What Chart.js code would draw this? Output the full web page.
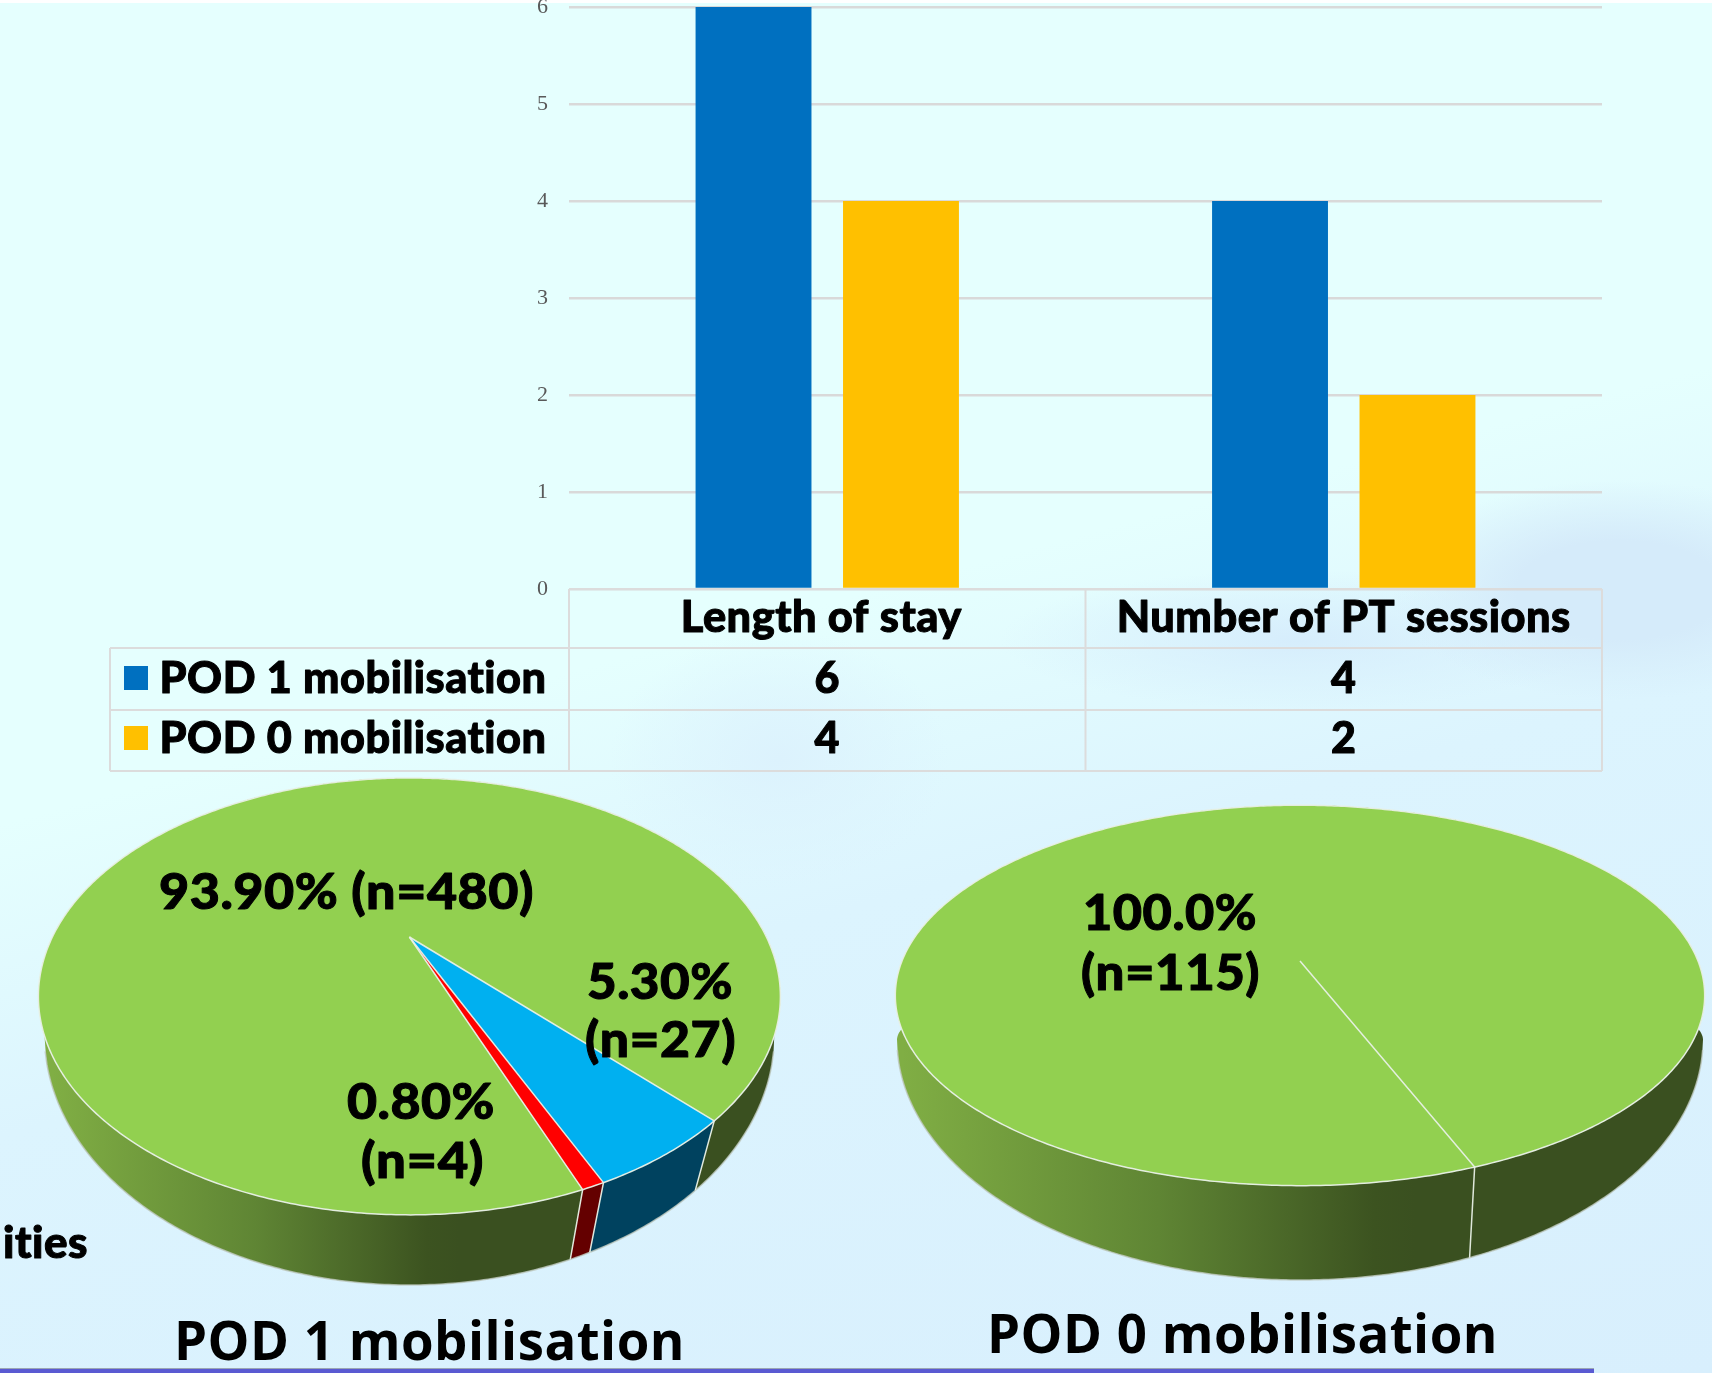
<!DOCTYPE html>
<html>
<head>
<meta charset="utf-8">
<title>POD 0 vs POD 1 mobilisation</title>
<script src="https://cdn.jsdelivr.net/npm/chart.js@4"></script>
<style>
  html, body { margin: 0; padding: 0; }
  body {
    width: 1712px; height: 1373px; position: relative; overflow: hidden;
    background:
      radial-gradient(ellipse 230px 110px at 1620px 590px, #d5ebfa 0%, #d5ebfa 45%, rgba(213,235,250,0) 100%),
      radial-gradient(ellipse 300px 70px at 1300px 640px, #d6edfc 0%, rgba(214,237,252,0) 100%),
      radial-gradient(ellipse 170px 130px at 780px 760px, #dcf2fd 0%, rgba(220,242,253,0) 100%),
      linear-gradient(165deg, #e5fffe 0%, #e5fffe 45%, #dcf4fe 62%, #d8effd 100%);
  }
  canvas { position: absolute; left: 0; top: 0; }
  #topline { position: absolute; left: 0; top: 0; width: 1712px; height: 3px; background: #fff; }
  #bottomline {
    position: absolute; left: 0; top: 1368px; width: 1594px; height: 5px;
    background: #5a5ad2; border-top: 1px solid #9aa6b4; box-sizing: border-box;
  }
</style>
</head>
<body>
<div id="topline"></div>
<div id="bottomline"></div>
<canvas id="chart-barras" width="1712" height="1373"></canvas>
<canvas id="chart-pod1" width="1712" height="1373"></canvas>
<canvas id="chart-pod0" width="1712" height="1373"></canvas>
<script>
// datos
const categorias = ['Length of stay', 'Number of PT sessions'];
const serieNombres = ['POD 1 mobilisation', 'POD 0 mobilisation'];
const pod1Valores = [6, 4];
const pod0Valores = [4, 2];
const pod1Porcentaje = [5.3, 0.8, 93.9];
const pod1Casos = [27, 4, 480];
const pod0Porcentaje = [100];
const pod0Casos = [115];

const AZUL = '#0070c0', AMARILLO = '#ffc000', LINEA = '#dcdcdc';
const FUENTE = 'Lato, sans-serif';

function texto(ctx, str, x, y, font, opt = {}) {
    ctx.save();
    ctx.font = font;
    ctx.letterSpacing = '0.5px'; // evita la ligadura "ti" de Lato
    ctx.fillStyle = opt.color || '#000';
    ctx.strokeStyle = opt.color || '#000';
    ctx.lineWidth = 1;
    ctx.lineJoin = 'round';
    ctx.textBaseline = 'alphabetic';
    ctx.textAlign = 'left';
    const w = ctx.measureText(str).width;
    const sx = opt.width ? opt.width / w : (opt.sx || 1);
    ctx.translate(opt.center ? x - w * sx / 2 : x, y);
    ctx.scale(sx, 1);
    ctx.fillText(str, 0, 0);
    if (!opt.fino) ctx.strokeText(str, 0, 0);
    ctx.restore();
}

// tabla de datos bajo el gráfico de barras
const tablaPlugin = {
    id: 'tabla',
    afterDraw(chart) {
        const { ctx, chartArea: a, scales: { x } } = chart;
        const filas = [a.bottom, 648, 710, 771];
        const izq = 110, fuente = `900 43px ${FUENTE}`;
        const sep = x.getPixelForValue(0) + (x.getPixelForValue(1) - x.getPixelForValue(0)) / 2;
        ctx.save();
        ctx.strokeStyle = LINEA;
        ctx.lineWidth = 2;
        ctx.beginPath();
        ctx.moveTo(a.left, filas[0]); ctx.lineTo(a.right, filas[0]);
        for (let i = 1; i < 4; i++) { ctx.moveTo(izq, filas[i]); ctx.lineTo(a.right, filas[i]); }
        ctx.moveTo(izq, filas[1]); ctx.lineTo(izq, filas[3]);
        [a.left, sep, a.right].forEach(px => { ctx.moveTo(px, filas[0]); ctx.lineTo(px, filas[3]); });
        ctx.stroke();
        ctx.restore();

        const anchos = [281, 454], ajuste = [-6, 0];
        categorias.forEach((c, i) => texto(ctx, c, x.getPixelForValue(i) + ajuste[i], 632, fuente, { width: anchos[i], center: true }));
        const bases = [693, 753];
        [pod1Valores, pod0Valores].forEach((vals, f) => {
            ctx.fillStyle = chart.data.datasets[f].backgroundColor;
            ctx.fillRect(124, bases[f] - 27, 24, 24);
            texto(ctx, serieNombres[f], 159.5, bases[f], fuente, { width: 387 });
            vals.forEach((v, i) => texto(ctx, String(v), x.getPixelForValue(i), bases[f], fuente, { center: true }));
        });
    }
};

new Chart(document.getElementById('chart-barras'), {
    type: 'bar',
    data: {
        labels: categorias,
        datasets: [
            { label: serieNombres[0], data: pod1Valores, backgroundColor: AZUL, categoryPercentage: 0.571, barPercentage: 0.786 },
            { label: serieNombres[1], data: pod0Valores, backgroundColor: AMARILLO, categoryPercentage: 0.571, barPercentage: 0.786 }
        ]
    },
    options: {
        responsive: false,
        animation: false,
        layout: { padding: { left: 519, right: 110, top: 7, bottom: 0 } },
        plugins: { legend: { display: false }, tooltip: { enabled: false } },
        scales: {
            x: {
                grid: { display: false },
                border: { display: false },
                ticks: { display: false },
                afterFit: s => { s.height = 784; }
            },
            y: {
                min: 0, max: 6,
                afterFit: s => { s.width = 50; s.paddingTop = 0; s.paddingBottom = 0; },
                border: { display: false },
                grid: { color: '#d9d9d9', lineWidth: 2.5, drawTicks: false },
                ticks: {
                    stepSize: 1, padding: 21, color: '#595959',
                    font: { family: '"Liberation Serif", serif', size: 22 }
                }
            }
        }
    },
    plugins: [tablaPlugin]
});

// pie con perspectiva: los ángulos salen del ArcElement de Chart.js
function puntoSup(g, ang) {
    const u = Math.cos(ang), v = Math.sin(ang), w = 1 - g.k * v;
    return [g.cx + g.R * u / w, g.cy + g.S * v / w];
}
function puntoInf(g, ang) {
    const p = puntoSup(g, ang), sen = Math.sin(ang);
    const emax = g.R / Math.sqrt(1 - g.k * g.k);
    const t = sen > g.k ? Math.sqrt((sen - g.k) / (1 - g.k)) : 0;
    const bx = g.cx + (p[0] - g.cx) * (g.rb / emax) * (1 - g.c * t);
    const r = (bx - g.cx) / g.rb;
    // la mitad trasera queda siempre tapada por la cara superior
    return [bx, g.yb + (sen >= g.k ? 1 : -0.3) * g.ryb * Math.sqrt(Math.max(0, 1 - r * r))];
}
function arco(ctx, g, fn, a0, a1) {
    const n = Math.max(2, Math.ceil(Math.abs(a1 - a0) / 0.01));
    for (let i = 0; i <= n; i++) {
        const p = fn(g, a0 + (a1 - a0) * i / n);
        ctx.lineTo(p[0], p[1]);
    }
}
const pieOpts = {
    id: 'pie3d',
    beforeDatasetDraw(chart, args, o) {
        const { ctx } = chart, g = o.geo;
        const arcos = chart.getDatasetMeta(0).data;
        const fill = chart.data.datasets[0].backgroundColor;
        const borde = 'rgba(232,240,230,0.95)';
        const grad = ctx.createLinearGradient(g.cx - g.R, 0, g.cx + g.finGrad * g.R, 0);
        grad.addColorStop(0, '#80ae44');
        grad.addColorStop(0.5, '#5f8534');
        grad.addColorStop(0.92, '#3c5320');
        grad.addColorStop(1, '#3a5020');
        ctx.save();
        // pared lateral
        arcos.forEach((el, i) => {
            ctx.beginPath();
            arco(ctx, g, puntoSup, el.startAngle, el.endAngle);
            arco(ctx, g, puntoInf, el.endAngle, el.startAngle);
            ctx.closePath();
            ctx.fillStyle = o.pared[i] || grad;
            ctx.fill();
        });
        const a0 = Math.asin(g.k);
        ctx.beginPath();
        arco(ctx, g, puntoInf, a0 + 0.001, Math.PI - a0 - 0.001);
        ctx.strokeStyle = 'rgba(190,200,190,0.8)';
        ctx.lineWidth = 1.5;
        ctx.stroke();
        // cara superior
        arcos.forEach((el, i) => {
            ctx.beginPath();
            ctx.moveTo(g.cx, g.cy);
            arco(ctx, g, puntoSup, el.startAngle, el.endAngle);
            ctx.closePath();
            ctx.fillStyle = fill[i];
            ctx.fill();
        });
        ctx.strokeStyle = borde;
        ctx.lineWidth = 1.5;
        ctx.beginPath();
        arco(ctx, g, puntoSup, 0, Math.PI * 2);
        ctx.closePath();
        ctx.stroke();
        arcos.forEach(el => {
            const p = puntoSup(g, el.startAngle), q = puntoInf(g, el.startAngle);
            ctx.beginPath();
            ctx.moveTo(g.cx, g.cy);
            ctx.lineTo(p[0], p[1]);
            ctx.lineTo(q[0], q[1]);
            ctx.stroke();
        });
        ctx.restore();
        return false;
    },
    afterDraw(chart, args, o) {
        const { ctx } = chart;
        o.textos.forEach(t => texto(ctx, t.s, t.x, t.y, t.font, { width: t.w, fino: t.fino }));
    }
};

const VERDE = '#92d050', CELESTE = '#00b0f0', ROJO = '#ff0000';
const fEtiqueta = `900 50px ${FUENTE}`;
const fTitulo = '700 54px "Open Sans", sans-serif';
const fmt = p => p.toFixed(2) + '%';

function crearPie(id, valores, colores, rot, geo, pared, textos) {
    return new Chart(document.getElementById(id), {
        type: 'pie',
        data: { datasets: [{ data: valores, backgroundColor: colores }] },
        options: {
            responsive: false,
            animation: false,
            rotation: rot,
            plugins: {
                legend: { display: false },
                tooltip: { enabled: false },
                pie3d: { geo, pared, textos }
            }
        },
        plugins: [pieOpts]
    });
}

crearPie('chart-pod1', pod1Porcentaje, [CELESTE, ROJO, VERDE], 136.8,
    { cx: 409.4, cy: 937, R: 357, S: 202.3, k: 0.272, rb: 365, ryb: 250, yb: 1035, c: 0.059, finGrad: 0.14 },
    ['#00425f', '#640000', null],
    [
        { s: `${fmt(pod1Porcentaje[2])} (n=${pod1Casos[2]})`, x: 159, y: 909, w: 375, font: fEtiqueta },
        { s: fmt(pod1Porcentaje[0]), x: 587, y: 999, w: 146, font: fEtiqueta },
        { s: `(n=${pod1Casos[0]})`, x: 585, y: 1057, w: 151, font: fEtiqueta },
        { s: fmt(pod1Porcentaje[1]), x: 347, y: 1119, w: 148, font: fEtiqueta },
        { s: `(n=${pod1Casos[1]})`, x: 361, y: 1178, w: 123, font: fEtiqueta },
        { s: 'ities', x: 3, y: 1258, w: 85, font: `900 43px ${FUENTE}` },
        { s: serieNombres[0], x: 174, y: 1360, w: 511, font: fTitulo, fino: true }
    ]);

crearPie('chart-pod0', pod0Porcentaje, [VERDE], 158.6,
    { cx: 1300, cy: 961, R: 398, S: 184, k: 0.181, rb: 403, ryb: 240, yb: 1040, c: 0.026, finGrad: 0.29 },
    [null],
    [
        { s: pod0Porcentaje[0].toFixed(1) + '%', x: 1083, y: 930, w: 174, font: fEtiqueta },
        { s: `(n=${pod0Casos[0]})`, x: 1081, y: 990, w: 179, font: fEtiqueta },
        { s: serieNombres[1], x: 987, y: 1353, w: 511, font: fTitulo, fino: true }
    ]);
</script>
</body>
</html>
